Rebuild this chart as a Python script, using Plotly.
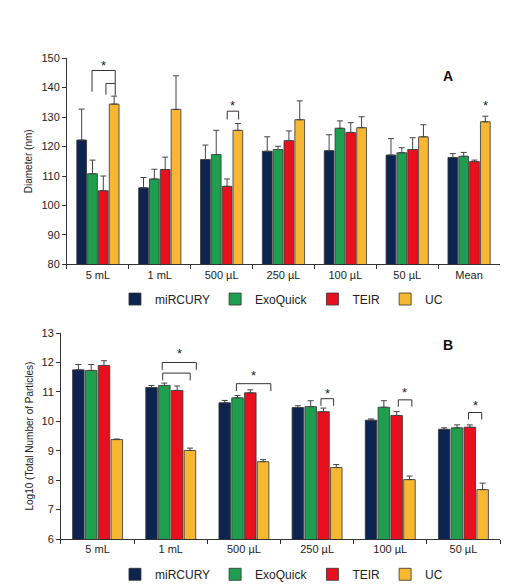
import plotly.graph_objects as go

series = ["miRCURY", "ExoQuick", "TEIR", "UC"]
colors = ["#0d2451", "#1e9e4e", "#e8101e", "#f7b733"]

cats_a = ["5 mL", "1 mL", "500 µL", "250 µL", "100 µL", "50 µL", "Mean"]
vals_a = [
    [122.2, 106.0, 115.6, 118.4, 118.6, 117.1, 116.3],
    [110.8, 109.0, 117.3, 119.0, 126.2, 117.9, 116.7],
    [105.0, 112.2, 106.5, 122.0, 124.8, 119.0, 114.9],
    [134.4, 132.6, 125.5, 129.1, 126.4, 123.3, 128.4],
]
err_a = [
    [10.5, 3.5, 4.9, 4.9, 5.4, 5.6, 1.3],
    [4.6, 3.3, 8.2, 1.1, 2.5, 1.7, 1.3],
    [5.0, 4.2, 2.5, 3.3, 3.3, 4.0, 0.5],
    [2.7, 11.4, 2.3, 6.4, 3.7, 4.1, 1.9],
]

cats_b = ["5 mL", "1 mL", "500 µL", "250 µL", "100 µL", "50 µL"]
vals_b = [
    [11.75, 11.15, 10.63, 10.47, 10.04, 9.73],
    [11.73, 11.22, 10.80, 10.50, 10.48, 9.78],
    [11.90, 11.05, 10.97, 10.33, 10.20, 9.80],
    [9.38, 9.01, 8.63, 8.43, 8.02, 7.68],
]
err_b = [
    [0.18, 0.07, 0.08, 0.06, 0.04, 0.05],
    [0.20, 0.08, 0.08, 0.20, 0.22, 0.10],
    [0.16, 0.15, 0.10, 0.12, 0.13, 0.08],
    [0.02, 0.08, 0.07, 0.10, 0.12, 0.22],
]

# significance brackets: (x0, x1, top, leg_bottom_left, leg_bottom_right)
brackets_a = [(-0.095, 0.28, 145.8, 138.6, 141.4), (0.13, 0.28, 141.4, 137.6, 137.3),
              (2.09, 2.275, 132.0, 129.2, 129.2)]
stars_a = [(0.09, 147.5), (2.18, 134.0), (6.26, 134.0)]
brackets_b = [(0.884, 1.35, 12.0, 11.75, 11.75), (0.89, 1.266, 11.64, 11.39, 11.39),
              (1.897, 2.368, 11.28, 11.03, 11.03), (3.053, 3.226, 10.77, 10.53, 10.53),
              (4.11, 4.295, 10.73, 10.5, 10.5), (5.07, 5.25, 10.3, 10.06, 10.06)]
stars_b = [(1.12, 12.3), (2.13, 11.55), (3.14, 10.95), (4.2, 10.99), (5.16, 10.53)]

fig = go.Figure()
for i, s in enumerate(series):
    fig.add_trace(go.Bar(x=cats_a, y=vals_a[i], name=s, marker_color=colors[i],
                         marker_line=dict(color="#333", width=0.8),
                         error_y=dict(type="data", array=err_a[i], arrayminus=[0]*len(err_a[i]),
                                      symmetric=False, color="#444", thickness=1, width=3),
                         xaxis="x", yaxis="y", legend="legend"))
for i, s in enumerate(series):
    fig.add_trace(go.Bar(x=cats_b, y=vals_b[i], name=s, marker_color=colors[i],
                         marker_line=dict(color="#333", width=0.8),
                         error_y=dict(type="data", array=err_b[i], arrayminus=[0]*len(err_b[i]),
                                      symmetric=False, color="#444", thickness=1, width=3),
                         xaxis="x2", yaxis="y2", legend="legend2"))

shapes = []
for xr, yr, br in [("x", "y", brackets_a), ("x2", "y2", brackets_b)]:
    for x0, x1, top, l0, l1 in br:
        shapes.append(dict(type="path", xref=xr, yref=yr,
                           path=f"M {x0},{l0} L {x0},{top} L {x1},{top} L {x1},{l1}",
                           line=dict(color="#333", width=1)))
ann = []
for xr, yr, st in [("x", "y", stars_a), ("x2", "y2", stars_b)]:
    for x, y in st:
        ann.append(dict(x=x, y=y, xref=xr, yref=yr, text="*", showarrow=False,
                        font=dict(size=13, color="#222")))
ann.append(dict(x=0.866, y=0.91, xref="paper", yref="paper", text="<b>A</b>", showarrow=False,
                font=dict(size=14, color="#111")))
ann.append(dict(x=0.866, y=0.424, xref="paper", yref="paper", text="<b>B</b>", showarrow=False,
                font=dict(size=14, color="#111")))

ax = dict(showline=True, linecolor="#333", linewidth=1, ticks="outside", tickcolor="#333",
          ticklen=4, showgrid=False, zeroline=False, tickfont=dict(size=11, color="#222"))
xax = dict(ax, tickson="boundaries")
fig.update_layout(
    width=516, height=587, margin=dict(l=0, r=0, t=0, b=0),
    paper_bgcolor="white", plot_bgcolor="white",
    font=dict(family="Liberation Sans, Arial, sans-serif", color="#222"),
    barmode="group", bargap=0.3, bargroupgap=0.1,
    xaxis=dict(xax, domain=[0.1143, 0.9535], anchor="y"),
    yaxis=dict(ax, domain=[0.5644, 0.9233], range=[80, 150], dtick=10, anchor="x",
               title=dict(text="Diameter (nm)", font=dict(size=10), standoff=6)),
    xaxis2=dict(xax, domain=[0.1027, 0.9535], anchor="y2"),
    yaxis2=dict(ax, domain=[0.0869, 0.4451], range=[6, 13], dtick=1, anchor="x2",
                title=dict(text="Log10 (Total Number of Particles)", font=dict(size=10), standoff=6)),
    legend=dict(orientation="h", x=0.53, xanchor="center", y=1 - 291/587, yanchor="middle",
                font=dict(size=12), itemwidth=30, traceorder="normal"),
    legend2=dict(orientation="h", x=0.53, xanchor="center", y=1 - 572/587, yanchor="middle",
                 font=dict(size=12), itemwidth=30, traceorder="normal"),
    shapes=shapes, annotations=ann,
)
fig.write_html("out.html")
